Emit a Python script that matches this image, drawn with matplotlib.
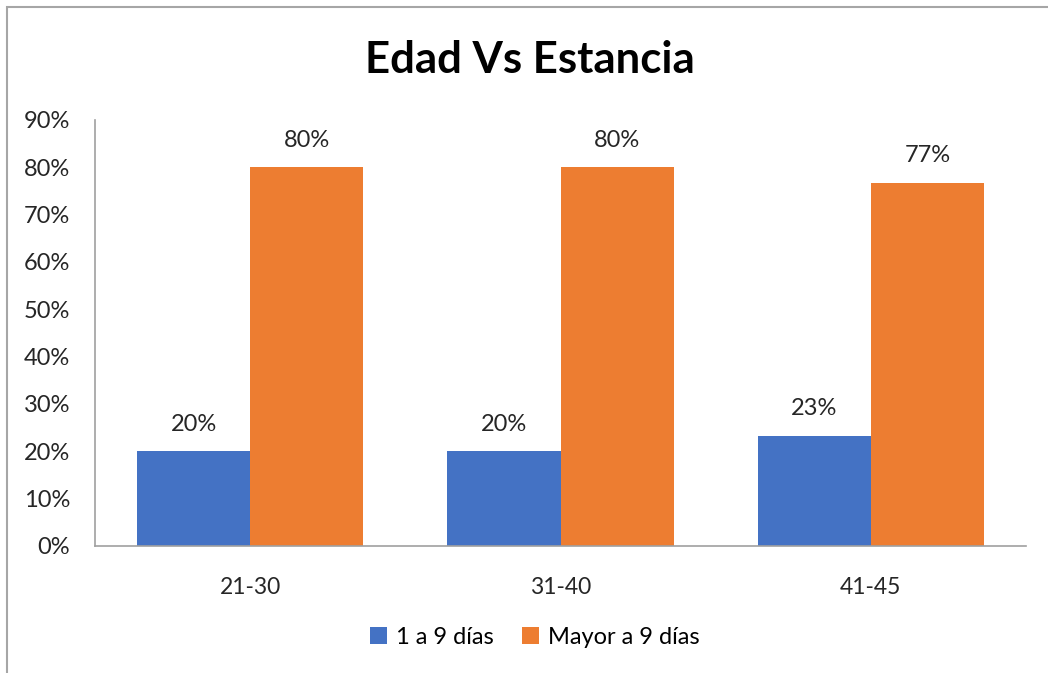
import matplotlib.pyplot as plt
import numpy as np
from matplotlib.patches import Rectangle

plt.rcParams['font.family'] = ['Lato', 'DejaVu Sans']

categorias = ['21-30', '31-40', '41-45']
series = ['1 a 9 días', 'Mayor a 9 días']
uno_a_nueve = [20.0, 20.0, 23.3]
mayor_nueve = [80.0, 80.0, 76.7]
etiquetas_uno = ['20%', '20%', '23%']
etiquetas_mayor = ['80%', '80%', '77%']
colores = ['#4472C4', '#ED7D31']

fig = plt.figure(figsize=(10.48, 6.73), dpi=100)
ax = fig.add_axes([95 / 1048, 1 - 546 / 673, 931 / 1048, 426 / 673])

# marco del gráfico
fig.patches.append(Rectangle((7 / 1048, -0.1), 1.2, (1 - 7 / 673) + 0.1,
                             transform=fig.transFigure, fill=False,
                             edgecolor='#a6a6a6', linewidth=1.5))

x = np.arange(len(categorias))
w = 0.365
b1 = ax.bar(x - w / 2, uno_a_nueve, w, color=colores[0], label=series[0])
b2 = ax.bar(x + w / 2, mayor_nueve, w, color=colores[1], label=series[1])

for barras, etiquetas in [(b1, etiquetas_uno), (b2, etiquetas_mayor)]:
    for rect, txt in zip(barras, etiquetas):
        ax.annotate(txt, (rect.get_x() + rect.get_width() / 2, rect.get_height()),
                    xytext=(0, 12), textcoords='offset points',
                    ha='center', va='bottom', fontsize=17, color='#262626')

ax.set_xlim(-0.5, 2.5)
ax.set_ylim(0, 90)
ax.set_yticks(range(0, 91, 10))
ax.set_yticklabels([f'{v}%' for v in range(0, 91, 10)])
ax.set_xticks(x)
ax.set_xticklabels(categorias)
ax.tick_params(axis='both', length=0, colors='#262626')
ax.tick_params(axis='y', pad=18, labelsize=17)
ax.tick_params(axis='x', pad=22, labelsize=16.5)

for s in ['top', 'right']:
    ax.spines[s].set_visible(False)
for s in ['left', 'bottom']:
    ax.spines[s].set_color('#a0a0a0')
    ax.spines[s].set_linewidth(1.2)

fig.text(530 / 1048, 1 - 60 / 673, 'Edad Vs Estancia', ha='center', va='center',
         fontsize=31.5, fontweight='bold', color='black')

fig.legend(loc='center', bbox_to_anchor=(535 / 1048, 1 - 637 / 673), ncol=2,
           frameon=False, fontsize=17, handlelength=0.7, handleheight=0.7,
           handletextpad=0.4, columnspacing=1.2)

fig.savefig('out.png', dpi=100)
